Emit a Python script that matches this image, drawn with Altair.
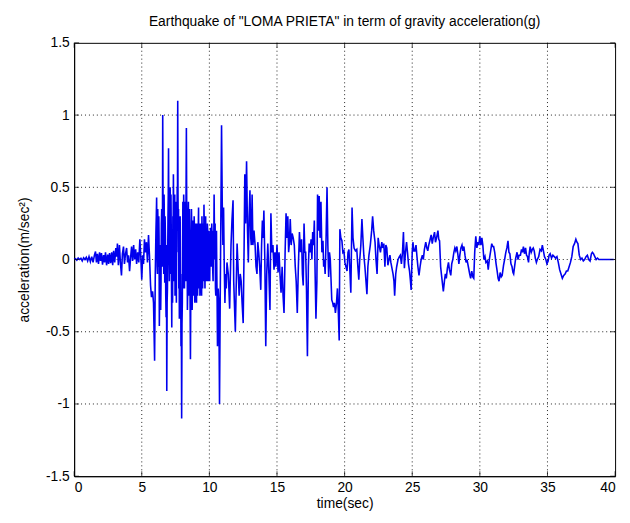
import altair as alt
import pandas as pd

# time (s) and acceleration (g)
time = [
    0.0, 0.1, 0.2, 0.3, 0.4, 0.5, 0.6, 0.7, 0.8, 0.9, 1.0, 1.1, 1.2, 1.3, 1.4, 1.5,
    1.58, 1.65, 1.72, 1.8, 1.88, 1.95, 2.02, 2.1, 2.18, 2.25, 2.32, 2.4, 2.48, 2.55,
    2.62, 2.7, 2.78, 2.85, 2.92, 3.0, 3.08, 3.15, 3.2, 3.27, 3.35, 3.42, 3.5, 3.57,
    3.65, 3.72, 3.8, 3.88, 3.95, 4.02, 4.1, 4.18, 4.25, 4.32, 4.4, 4.47, 4.55, 4.62,
    4.7, 4.78, 4.86, 4.93, 5.0, 5.07, 5.13, 5.2, 5.27, 5.35, 5.42, 5.5, 5.57, 5.65,
    5.72, 5.8, 5.87, 5.95,
    6.00, 6.05, 6.10, 6.14, 6.18, 6.22, 6.26, 6.30, 6.35, 6.40, 6.45, 6.50, 6.55,
    6.60, 6.65, 6.70, 6.75, 6.80, 6.85, 6.90, 6.94, 6.98, 7.02, 7.06, 7.10, 7.14,
    7.18, 7.22, 7.26, 7.30, 7.34, 7.38, 7.42, 7.46, 7.50, 7.54, 7.58, 7.62, 7.66,
    7.70, 7.74, 7.78, 7.82, 7.86, 7.90, 7.95, 8.00, 8.04, 8.08, 8.12, 8.16, 8.20,
    8.25, 8.30, 8.35, 8.40, 8.45, 8.50, 8.55, 8.60, 8.65, 8.70, 8.75, 8.80, 8.85,
    8.90, 8.95, 9.00, 9.05, 9.10, 9.15, 9.20, 9.25, 9.30, 9.35, 9.40, 9.45, 9.50,
    9.55, 9.60, 9.65, 9.70, 9.75, 9.80, 9.85, 9.90, 9.95, 10.00, 10.05, 10.10,
    10.15, 10.20, 10.25, 10.30, 10.35, 10.40, 10.45, 10.50, 10.55, 10.60, 10.65,
    10.70, 10.75, 10.80, 10.85, 10.90, 10.95, 11.00, 11.05, 11.10, 11.15, 11.20,
    11.25, 11.30, 11.40, 11.50, 11.60, 11.67, 11.75, 11.80, 11.85, 11.92, 11.98,
    12.05, 12.12, 12.20, 12.28, 12.35, 12.42, 12.50, 12.57, 12.62, 12.68, 12.75,
    12.82, 12.88, 12.94, 13.00, 13.06, 13.10, 13.16, 13.22, 13.30, 13.38, 13.45,
    13.52, 13.58, 13.65, 13.72, 13.80, 13.86, 13.92, 13.98, 14.03, 14.10, 14.17,
    14.24, 14.32, 14.40, 14.48, 14.55, 14.62, 14.70, 14.78, 14.85, 14.92, 15.00,
    15.08, 15.15, 15.22, 15.30, 15.38, 15.45, 15.52, 15.60, 15.67, 15.74, 15.80,
    15.86, 15.92, 15.98, 16.05, 16.12, 16.20, 16.28, 16.35, 16.42, 16.50, 16.58,
    16.66, 16.74, 16.82, 16.88, 16.94, 17.00, 17.06, 17.12, 17.18, 17.25, 17.32,
    17.38, 17.45, 17.52, 17.58, 17.64, 17.70, 17.76, 17.82, 17.88, 17.95, 18.00,
    18.07, 18.12, 18.18, 18.25, 18.32, 18.40, 18.45, 18.50, 18.56, 18.62, 18.70,
    18.76, 18.82, 18.88, 18.94, 19.00, 19.05, 19.12, 19.18, 19.25, 19.32, 19.40,
    19.47, 19.53, 19.60, 19.65, 19.72, 19.80, 19.87, 19.95, 20.02, 20.10, 20.18,
    20.25, 20.32, 20.40, 20.46, 20.55, 20.62, 20.70, 20.80, 20.90, 20.98, 21.05,
    21.12, 21.20, 21.28, 21.35, 21.42, 21.50, 21.58, 21.65, 21.72, 21.80, 21.90,
    22.00, 22.07, 22.15, 22.25, 22.32, 22.40, 22.48, 22.55, 22.65, 22.75, 22.82,
    22.90, 22.98, 23.05, 23.12, 23.20, 23.28, 23.35, 23.42, 23.50, 23.58, 23.65,
    23.70, 23.78, 23.85, 23.95, 24.05, 24.12, 24.20, 24.28, 24.35, 24.42, 24.50,
    24.58, 24.65, 24.72, 24.80, 24.86, 24.92, 25.00, 25.05, 25.12, 25.20, 25.28,
    25.35, 25.42, 25.50, 25.58, 25.66, 25.75, 25.82, 25.90, 26.00, 26.08, 26.15,
    26.22, 26.30, 26.40, 26.48, 26.55, 26.65, 26.72, 26.80, 26.90, 26.96, 27.02,
    27.10, 27.18, 27.25, 27.30, 27.38, 27.45, 27.52, 27.60, 27.68, 27.75, 27.85,
    27.92, 28.00, 28.08, 28.15, 28.22, 28.30, 28.38, 28.45, 28.52, 28.60, 28.68,
    28.75, 28.82, 28.90, 28.98, 29.05, 29.15, 29.25, 29.32, 29.40, 29.48, 29.55,
    29.62, 29.70, 29.78, 29.85, 29.92, 30.00, 30.08, 30.15, 30.22, 30.30, 30.38,
    30.45, 30.55, 30.62, 30.70, 30.80, 30.88, 30.95, 31.02, 31.10, 31.20, 31.28,
    31.35, 31.42, 31.50, 31.58, 31.65, 31.75, 31.85, 31.92, 32.00, 32.08, 32.15,
    32.22, 32.30, 32.38, 32.45, 32.50, 32.58, 32.65, 32.75, 32.82, 32.90, 33.00,
    33.08, 33.15, 33.22, 33.30, 33.38, 33.45, 33.52, 33.60, 33.65, 33.72, 33.80,
    33.88, 33.95, 34.02, 34.10, 34.18, 34.25, 34.35, 34.45, 34.55, 34.62, 34.70,
    34.78, 34.88, 34.96, 35.05, 35.12, 35.20, 35.30, 35.40, 35.50, 35.60, 35.70,
    35.80, 35.90, 36.00, 36.10, 36.20, 36.30, 36.40, 36.50, 36.60, 36.70, 36.80,
    36.90, 37.00, 37.10, 37.18, 37.25, 37.35, 37.45, 37.55, 37.65, 37.75, 37.85,
    37.95, 38.05, 38.15, 38.25, 38.32, 38.40, 38.50, 38.60, 38.70, 38.80, 39.00,
    39.20, 39.40, 39.60, 39.80, 39.90,
]

accel = [
    0.0, 0.005, -0.005, 0.01, 0.0, 0.008, -0.01, 0.012, 0.0, 0.015, -0.01, 0.02, -0.015, 0.02, -0.02, 0.03,
    0.055, -0.02, 0.04, -0.03, 0.05, -0.01, 0.045, -0.035, 0.03, -0.02, 0.05, -0.04, 0.035, -0.03,
    0.045, -0.025, 0.05, -0.04, 0.06, -0.02, 0.08, 0.02, 0.11, -0.04, 0.10, -0.02, -0.11, 0.04,
    0.09, -0.03, 0.04, 0.08, -0.02, 0.03, -0.08, 0.02, 0.09, -0.01, 0.10, 0.0, 0.07, -0.03,
    0.05, -0.02, 0.14, 0.02, -0.14, 0.03, -0.03, 0.14, 0.05, 0.12, -0.02, 0.17, 0.03, -0.18,
    -0.26, -0.22, -0.30, -0.70,
    -0.10, 0.20, 0.43, -0.05, 0.35, 0.10, 0.30, -0.46, -0.10, -0.35, 0.25, 0.10, 1.00,
    0.20, 0.45, -0.16, 0.15, -0.40, -0.91, -0.20, 0.30, 0.77, 0.10, 0.40, 0.50, -0.10,
    0.20, -0.47, -0.20, 0.30, 0.59, 0.00, 0.35, -0.25, 0.40, -0.10, 0.30, 0.50, 1.10,
    0.20, -0.20, -0.41, 0.10, -0.30, -0.60, -1.10, -0.30, 0.40, 0.10, 0.35, -0.20, 0.30,
    -0.15, 0.91, 0.20, -0.20, 0.40, -0.25, 0.20, -0.69, -0.10, 0.20, -0.20, 0.27, 0.00,
    0.20, -0.15, 0.10, -0.30, 0.15, -0.10, 0.36, 0.05, -0.25, 0.20, -0.10, 0.30, -0.20,
    0.15, 0.38, -0.05, 0.20, -0.15, 0.10, 0.25, -0.10, 0.16, -0.07, 0.10, 0.22,
    -0.05, 0.15, -0.08, 0.20, 0.45, 0.00, -0.20, 0.15, -0.10, -0.60, -0.20,
    -0.30, -1.00, -0.30, 0.30, 0.93, 0.40, 0.10, 0.36, -0.05, -0.30, -0.10,
    -0.20, -0.02, -0.10, -0.34, 0.10, 0.27, 0.41, -0.15, -0.30, -0.50, -0.20,
    0.11, -0.05, -0.25, -0.10, -0.15, -0.30, -0.44, 0.10, 0.59, 0.25, 0.68,
    0.20, -0.02, 0.30, 0.48, 0.15, 0.10, 0.45, 0.10, 0.20, 0.10, -0.05,
    -0.10, 0.12, 0.05, -0.05, -0.21, 0.10, 0.27, 0.15, 0.34, 0.00, -0.60,
    -0.10, 0.11, -0.10, -0.35, 0.32, 0.05, 0.10, -0.07, 0.05, -0.05, 0.10,
    -0.09, 0.05, -0.10, -0.23, -0.05, -0.25, -0.37, 0.05, 0.32, 0.15, 0.30,
    0.05, 0.12, 0.28, 0.10, 0.18, 0.15, 0.10, -0.05, -0.15, -0.37, -0.05,
    0.19, 0.05, 0.14, -0.10, -0.18, 0.25, 0.05, 0.05, -0.20, -0.67, -0.05,
    0.11, 0.05, 0.14, 0.00, 0.19, 0.10, 0.27, -0.10, -0.41, -0.15, 0.45,
    0.20, 0.44, 0.15, 0.40, 0.05, 0.13, -0.05, 0.00, -0.10, 0.10, 0.50,
    0.10, -0.12, 0.05, 0.00, -0.15, -0.28, -0.30, -0.33, -0.30, -0.37, -0.30,
    -0.20, -0.35, -0.56, 0.21, 0.15, 0.13, 0.05, 0.06, -0.02, -0.05, -0.08,
    0.05, 0.07, -0.10, -0.23, 0.36, 0.15, 0.08, 0.06, 0.07, -0.05, -0.14,
    0.00, 0.10, 0.28, 0.15, 0.03, -0.05, -0.15, -0.24, -0.05, 0.03, 0.10,
    0.20, 0.30, 0.20, 0.12, 0.00, -0.10, 0.15, 0.10, 0.05, 0.12, 0.08,
    0.11, -0.05, 0.10, 0.08, -0.04, 0.00, 0.03, -0.02, -0.06, -0.10, -0.15,
    -0.25, -0.10, -0.05, 0.00, 0.02, 0.03, -0.03, 0.05, 0.19, -0.06, 0.05,
    0.12, 0.05, -0.03, -0.08, -0.14, -0.21, 0.05, 0.12, 0.06, 0.06, 0.10,
    0.02, -0.05, -0.11, -0.05, 0.00, 0.03, 0.00, 0.07, 0.12, 0.08, 0.06,
    0.10, 0.13, 0.17, 0.11, 0.15, 0.19, 0.12, 0.15, 0.20, 0.14, 0.13,
    -0.05, -0.12, -0.18, -0.22, -0.15, -0.10, -0.13, -0.06, -0.02, -0.07, -0.11,
    -0.03, 0.00, 0.05, 0.08, 0.06, 0.09, 0.03, -0.03, 0.03, 0.08, 0.10,
    0.06, 0.09, 0.03, -0.02, 0.00, -0.05, -0.10, -0.13, -0.08, -0.12, -0.13,
    0.05, 0.16, 0.08, 0.12, 0.10, 0.16, 0.10, 0.15, 0.10, 0.00, 0.02,
    -0.02, -0.01, -0.07, 0.00, 0.06, 0.11, 0.09, 0.09, 0.05, -0.03, -0.08,
    -0.13, -0.15, -0.09, -0.12, -0.11, -0.04, 0.01, 0.05, 0.08, 0.13, 0.05,
    0.04, -0.03, -0.05, -0.09, -0.10, -0.04, 0.01, 0.05, 0.00, 0.03, 0.03,
    0.07, 0.05, 0.09, 0.04, 0.08, 0.03, 0.02, -0.02, 0.04, 0.09, 0.05,
    0.07, 0.08, 0.06, 0.01, -0.02, 0.00, 0.02, 0.07, 0.06, 0.10, 0.06,
    0.02, 0.00, -0.03, -0.01, 0.03, 0.04, 0.01, 0.03, 0.02, 0.01, 0.02,
    -0.02, -0.07, -0.10, -0.13, -0.11, -0.10, -0.08, -0.08, -0.05, -0.02, 0.02,
    0.09, 0.11, 0.14, 0.12, 0.11, 0.03, 0.00, 0.01, -0.01, 0.00, 0.02,
    0.03, 0.00, -0.01, 0.04, 0.05, 0.04, 0.02, 0.00, 0.01, 0.00, 0.00,
    0.00, 0.00, 0.00, 0.00, 0.00,
]

# extra samples inside the solid-looking strong-motion band (6 - 10.6 s)
time_dense = [
    6.025, 6.075, 6.12, 6.16, 6.20, 6.24, 6.28, 6.325, 6.375, 6.425, 6.475, 6.525,
    6.575, 6.625, 6.675, 6.725, 6.775, 6.825, 6.875, 6.92, 6.96, 7.00, 7.04, 7.08,
    7.12, 7.16, 7.20, 7.24, 7.28, 7.32, 7.36, 7.40, 7.44, 7.48, 7.52, 7.56, 7.60,
    7.64, 7.68, 7.72, 7.76, 7.80, 7.84, 7.88, 7.925, 7.975, 8.02, 8.06, 8.10, 8.14,
    8.18, 8.225, 8.275, 8.325, 8.375, 8.425, 8.475, 8.525, 8.575, 8.625, 8.675,
    8.725, 8.775, 8.825, 8.875, 8.925, 8.975, 9.025, 9.075, 9.125, 9.175, 9.225,
    9.275, 9.325, 9.375, 9.425, 9.475, 9.525, 9.575, 9.625, 9.675, 9.725, 9.775,
    9.825, 9.875, 9.925, 9.975, 10.025, 10.075, 10.125, 10.175, 10.225, 10.275,
    10.325, 10.375, 10.425, 10.475, 10.525, 10.575,
]
accel_dense = [
    0.05, 0.30, 0.15, -0.10, 0.25, -0.05, 0.15, -0.25, 0.10, -0.15, 0.35, -0.05,
    0.40, -0.10, 0.25, 0.30, -0.25, 0.10, -0.30, 0.05, 0.45, 0.35, -0.15, 0.25,
    0.30, 0.45, -0.20, 0.15, -0.30, 0.10, 0.35, -0.15, 0.45, -0.05, 0.10, -0.30, 0.05,
    0.40, 0.45, 0.35, 0.05, -0.20, 0.30, -0.10, -0.25, -0.45, 0.10, -0.20, 0.45, -0.10,
    0.40, 0.05, 0.45, 0.35, -0.35, 0.25, -0.10, 0.35, -0.30, -0.25, 0.35,
    -0.35, 0.05, -0.25, 0.30, -0.30, 0.25, -0.10, 0.25, -0.25, 0.20, -0.20,
    0.25, -0.05, 0.25, -0.25, 0.10, 0.25, -0.15, 0.20, -0.20, 0.30, 0.15,
    -0.15, 0.20, -0.15, 0.20, -0.15, -0.05, 0.10, 0.25, 0.05, -0.15,
    0.10, 0.20, 0.25, -0.25, 0.20, -0.30,
]

x_ticks = [0, 5, 10, 15, 20, 25, 30, 35, 40]
y_ticks = [-1.5, -1, -0.5, 0, 0.5, 1, 1.5]

n = min(len(time), len(accel))
m = min(len(time_dense), len(accel_dense))
df = pd.concat([
    pd.DataFrame({"t": time[:n], "a": accel[:n]}),
    pd.DataFrame({"t": time_dense[:m], "a": accel_dense[:m]}),
]).sort_values("t").reset_index(drop=True)
xt = pd.DataFrame({"v": x_ticks})
yt = pd.DataFrame({"v": y_ticks})

FONT = "Liberation Sans"
xscale = alt.Scale(domain=[0, 40], nice=False, zero=False)
yscale = alt.Scale(domain=[-1.5, 1.5], nice=False, zero=False)

grid_x = alt.Chart(xt[(xt.v > 0) & (xt.v < 40)]).mark_rule(
    color="#222222", strokeWidth=1, strokeDash=[1, 3]
).encode(x=alt.X("v:Q", scale=xscale))
grid_y = alt.Chart(yt[(yt.v > -1.5) & (yt.v < 1.5)]).mark_rule(
    color="#222222", strokeWidth=1, strokeDash=[1, 3]
).encode(y=alt.Y("v:Q", scale=yscale))

line = alt.Chart(df).mark_line(color="#0000ee", strokeWidth=1.6, interpolate="linear").encode(
    x=alt.X(
        "t:Q", scale=xscale, title="time(sec)",
        axis=alt.Axis(values=x_ticks, grid=False, ticks=False, labelPadding=4,
                      labelExpr="'' + datum.value", titlePadding=3),
    ),
    y=alt.Y(
        "a:Q", scale=yscale, title="acceleration(m/sec²)",
        axis=alt.Axis(values=y_ticks, grid=False, ticks=False, labelPadding=5,
                      labelExpr="'' + datum.value", titlePadding=14),
    ),
    order=alt.Order("t:Q"),
)

tick_bottom = alt.Chart(xt).mark_tick(orient="vertical", size=5, yOffset=-2.5, color="black", thickness=1).encode(
    x=alt.X("v:Q", scale=xscale), y=alt.datum(-1.5)
)
tick_top = alt.Chart(xt).mark_tick(orient="vertical", size=5, yOffset=2.5, color="black", thickness=1).encode(
    x=alt.X("v:Q", scale=xscale), y=alt.datum(1.5)
)
tick_left = alt.Chart(yt).mark_tick(orient="horizontal", size=5, xOffset=2.5, color="black", thickness=1).encode(
    y=alt.Y("v:Q", scale=yscale), x=alt.datum(0)
)
tick_right = alt.Chart(yt).mark_tick(orient="horizontal", size=5, xOffset=-2.5, color="black", thickness=1).encode(
    y=alt.Y("v:Q", scale=yscale), x=alt.datum(40)
)

chart = alt.layer(grid_x, grid_y, line, tick_bottom, tick_top, tick_left, tick_right).properties(
    width=548,
    height=439,
    title=alt.TitleParams(
        'Earthquake of "LOMA PRIETA" in term of gravity acceleration(g)',
        fontSize=14, fontWeight="normal", font=FONT, color="black", offset=7,
    ),
    autosize=alt.AutoSizeParams(type="none"),
    padding={"left": 67, "top": 32, "right": 7, "bottom": 36},
    background="white",
).configure_view(
    stroke="black", strokeWidth=1
).configure_axis(
    domainColor="black", domainWidth=1, labelColor="black", titleColor="black",
    labelFont=FONT, titleFont=FONT, labelFontSize=14, titleFontSize=14,
    titleFontWeight="normal",
)

chart.save("out.html", embed_options={"renderer": "svg", "actions": False})
